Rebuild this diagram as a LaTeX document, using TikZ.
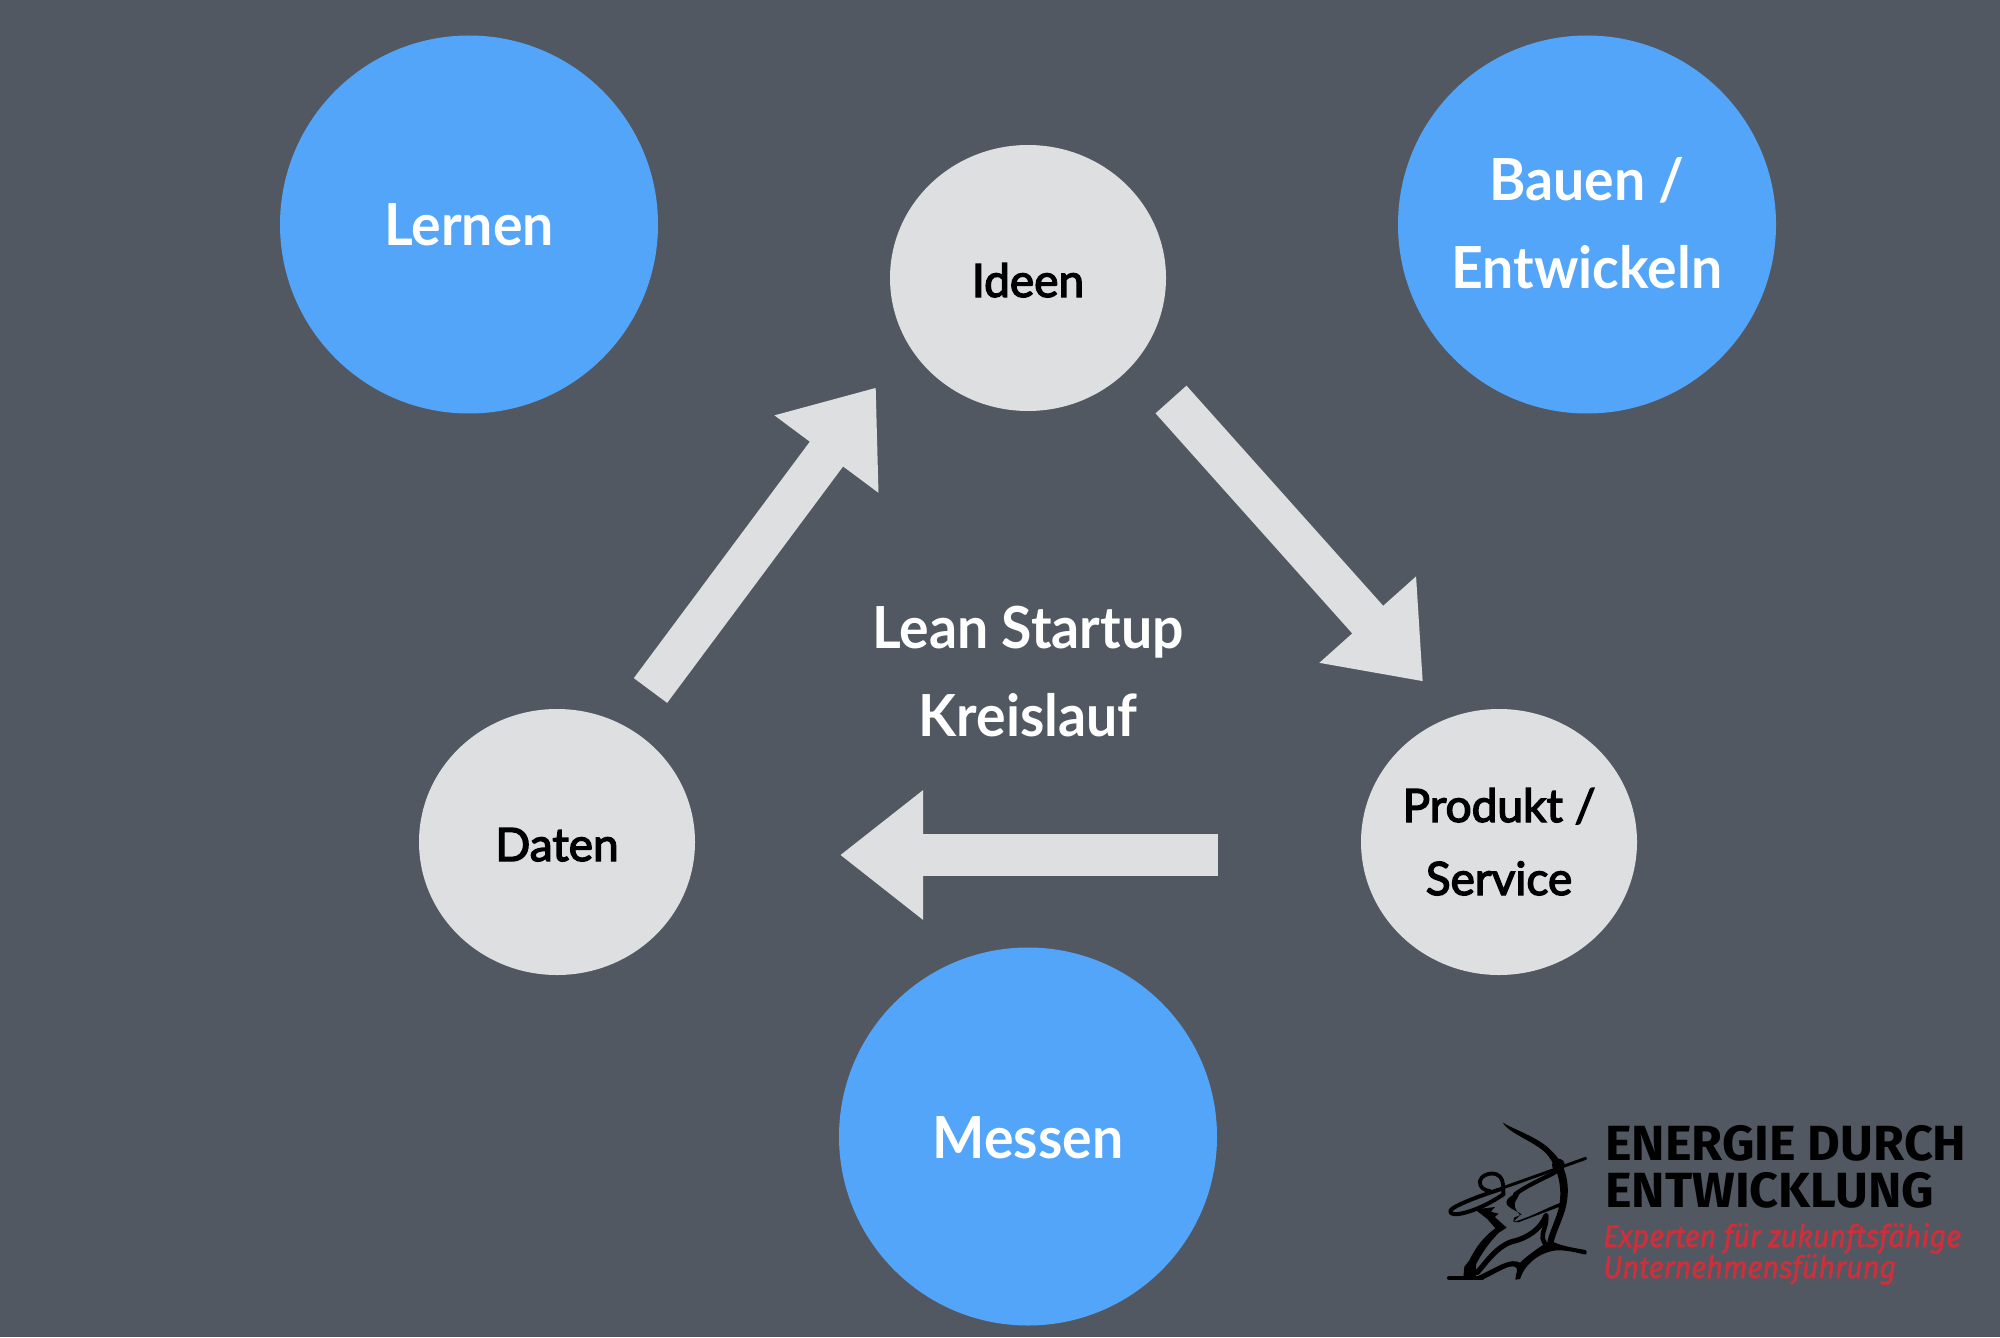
\documentclass[tikz,border=0pt]{standalone}
\usepackage{fontspec}
\setmainfont{Lato}
\newfontfamily\medfont[FakeBold=3]{Lato}
\newfontfamily\boldlato[FakeStretch=0.955]{Lato Bold}
\newfontfamily\logofont[FakeStretch=1.02]{Fira Sans}
\newfontfamily\subfont[FakeStretch=0.93,FakeBold=1.5]{Fira Sans}
\usetikzlibrary{arrows.meta,calc,shapes.geometric}
\definecolor{bgcol}{HTML}{525861}
\definecolor{bluecol}{HTML}{53A5F9}
\definecolor{graycol}{HTML}{DEDFE1}
\definecolor{redcol}{HTML}{CC303C}
\tikzset{
  bluecirc/.style={circle,fill=bluecol,minimum size=189pt,inner sep=0pt,outer sep=0pt,text=white,align=center,
     font=\boldlato\fontsize{29}{44}\selectfont},
  graycirc/.style={ellipse,fill=graycol,minimum width=138pt,minimum height=133pt,inner sep=0pt,outer sep=0pt,text=black,align=center,
     font=\medfont\fontsize{23}{36.5}\selectfont},
  flow/.style={draw=graycol,line width=20.75pt,line cap=butt,-{Triangle[width=62pt,length=41.5pt,fill=graycol]}},
  centertext/.style={text=white,align=center,inner sep=0pt,text height=0pt,text depth=0pt,font=\boldlato\fontsize{29}{44}\selectfont},
  logohead/.style={text=black,align=left,anchor=west,inner sep=0pt,text height=0pt,text depth=0pt,font=\logofont\bfseries\fontsize{24.7}{23.5}\selectfont},
  logosub/.style={text=redcol,align=left,anchor=west,inner sep=0pt,text height=0pt,text depth=0pt,font=\subfont\itshape\fontsize{15.5}{15.5}\selectfont},
  ink/.style={draw=black,line cap=round,line join=round},
}
\begin{document}
\begin{tikzpicture}[x=0.5pt,y=-0.5pt]
\useasboundingbox (0,0) rectangle (2000,1337);
\fill[bgcol] (0,0) rectangle (2000,1337);
% blue circles
\node[bluecirc,text height=20.5pt,text depth=0pt] (lernen) at (469,224.5) {Lernen};
\node[bluecirc,text height=63.5pt,text depth=0pt] (bauen) at (1587,224.5) {Bauen /\\Entwickeln};
\node[bluecirc,text height=21.5pt,text depth=0pt] (messen) at (1028,1136.5) {Messen};
% grey circles
\node[graycirc,text height=19pt,text depth=0pt] (ideen) at (1028,278) {Ideen};
\node[graycirc,text height=19pt,text depth=0pt] (daten) at (557,842) {Daten};
\node[graycirc,text height=53pt,text depth=0pt] (produkt) at (1499,842) {Produkt /\\Service};
% arrows
\draw[flow] ($(daten)+(93.5,-151.5)$) -- ($(ideen)+(-152,109.5)$);
\draw[flow] ($(ideen)+(143,121.5)$) -- ($(produkt)+(-76,-160.5)$);
\draw[flow] ($(produkt)+(-281,13)$) -- ($(daten)+(283,13)$);
% centre
\node[centertext] (title) at (1028,736) {Lean Startup\\Kreislauf};
% logo text
\node[logohead] (logoa) at (1605,1207) {ENERGIE DURCH\\ENTWICKLUNG};
\node[logosub] (logob) at (1603,1278) {Experten für zukunftsfähige\\Unternehmensführung};
% archer
\begin{scope}[shift={(1440,1115)},x=0.1667pt,y=-0.1667pt]
  % bow
  \fill[black] (188,22) .. controls (215,42) and (295,65) .. (335,108)
     .. controls (385,155) and (392,225) .. (375,285)
     .. controls (365,320) and (348,350) .. (340,385)
     -- (322,378) .. controls (332,340) and (350,310) .. (358,270)
     .. controls (368,210) and (350,150) .. (318,115)
     .. controls (285,80) and (205,55) .. (188,22) -- cycle;
  \fill[black] (355,150) circle[radius=19];
  % arrow
  \draw[ink,line width=1.5pt] (437,130) -- (190,218);
  % arm
  \draw[ink,line width=2pt] (190,220) .. controls (130,238) and (60,265) .. (38,280)
     .. controls (22,292) and (35,300) .. (55,297) .. controls (100,290) and (150,265) .. (190,238);
  % head
  \draw[ink,line width=1.9pt] (150,228) .. controls (120,225) and (112,200) .. (125,188)
     .. controls (140,172) and (170,172) .. (180,185) .. controls (190,195) and (190,215) .. (190,238);
  % bow arm and chest
  \draw[ink,line width=2.1pt] (345,172) .. controls (300,195) and (255,215) .. (225,238);
  \fill[black] (240,228) .. controls (212,242) and (190,255) .. (203,272)
     .. controls (212,282) and (235,290) .. (245,298) -- (222,308) -- (220,320)
     .. controls (260,312) and (320,278) .. (365,262) -- (362,274)
     .. controls (320,290) and (270,308) .. (235,322) -- (220,320)
     -- (240,300) .. controls (232,288) and (222,282) .. (224,265)
     .. controls (226,255) and (238,245) .. (240,228) -- cycle;
  % shoulder and back
  \fill[black] (105,283) -- (165,276) -- (152,290) -- (176,296) -- (164,306) -- (200,338)
     -- (178,352) .. controls (148,380) and (122,420) .. (108,448)
     -- (108,485) -- (70,485) -- (73,455) -- (88,436)
     .. controls (105,400) and (130,365) .. (166,340) -- (142,312) -- cycle;
  % ground
  \draw[ink,line width=2.4pt] (28,489) -- (125,489);
  % inner leg
  \draw[ink,line width=2.6pt] (112,472) .. controls (140,440) and (170,395) .. (215,380)
     .. controls (260,370) and (300,345) .. (318,302);
  \draw[ink,line width=2.3pt] (318,302) .. controls (322,330) and (305,350) .. (308,370)
     .. controls (312,385) and (320,395) .. (335,395);
  % base
  \fill[black] (330,376) .. controls (360,393) and (400,398) .. (436,405)
     .. controls (444,411) and (440,420) .. (432,418)
     .. controls (400,410) and (365,402) .. (335,408)
     .. controls (290,418) and (252,452) .. (240,492)
     -- (226,494) .. controls (226,475) and (238,462) .. (226,456)
     .. controls (208,446) and (170,474) .. (125,495) -- (116,482)
     .. controls (170,458) and (210,426) .. (240,443)
     .. controls (260,423) and (295,398) .. (330,376) -- cycle;
\end{scope}
\end{tikzpicture}
\end{document}
